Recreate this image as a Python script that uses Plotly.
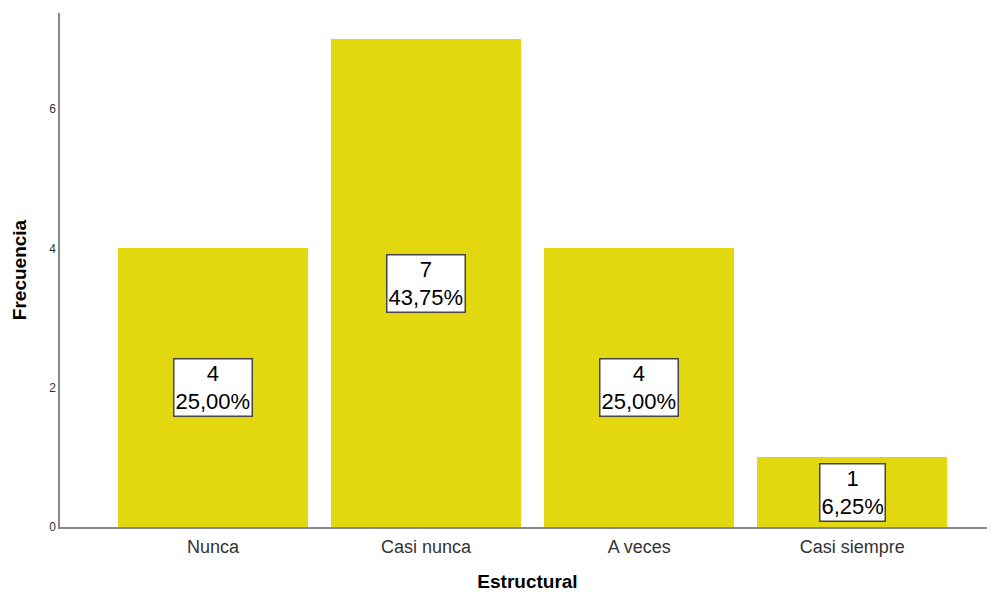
import plotly.graph_objects as go

categories = ["Nunca", "Casi nunca", "A veces", "Casi siempre"]
counts = [4, 7, 4, 1]
percents = ["25,00%", "43,75%", "25,00%", "6,25%"]
y_ticks = [0, 2, 4, 6]

FONT = "Liberation Sans, Arial"

fig = go.Figure()
fig.add_trace(go.Bar(
    x=list(range(len(categories))), y=counts,
    width=0.892,
    marker=dict(color="#e3d70f", line=dict(width=0)),
    hoverinfo="skip",
))

for i, (c, p) in enumerate(zip(counts, percents)):
    fig.add_annotation(
        x=i, y=c / 2, xref="x", yref="y",
        text=f"{c}<br>{p}", showarrow=False,
        font=dict(family=FONT, size=22, color="black"),
        bgcolor="white", bordercolor="#444444", borderwidth=1.5, borderpad=1,
        align="center",
    )

fig.update_layout(
    width=987, height=584,
    margin=dict(l=52, r=0, t=5, b=65),
    plot_bgcolor="white", paper_bgcolor="white",
    showlegend=False,
    bargap=0,
    xaxis=dict(
        range=[-0.718, 3.67],
        tickmode="array", tickvals=list(range(len(categories))), ticktext=categories,
        showgrid=False, zeroline=False,
        showline=True, linecolor="#888888", linewidth=1.5,
        ticks="", ticklabelstandoff=3,
        tickfont=dict(family=FONT, size=18, color="#333333"),
        title=dict(text="<b>Estructural</b>", font=dict(family=FONT, size=19, color="black"), standoff=21),
    ),
    yaxis=dict(
        range=[0, 7.38],
        tickmode="array", tickvals=y_ticks,
        showgrid=False, zeroline=False,
        showline=True, linecolor="#888888", linewidth=1.5,
        ticks="", tickfont=dict(family=FONT, size=12, color="#333333"),
        title=dict(text="<b>Frecuencia</b>", font=dict(family=FONT, size=19, color="black"), standoff=18),
    ),
)

fig.write_html("out.html")
